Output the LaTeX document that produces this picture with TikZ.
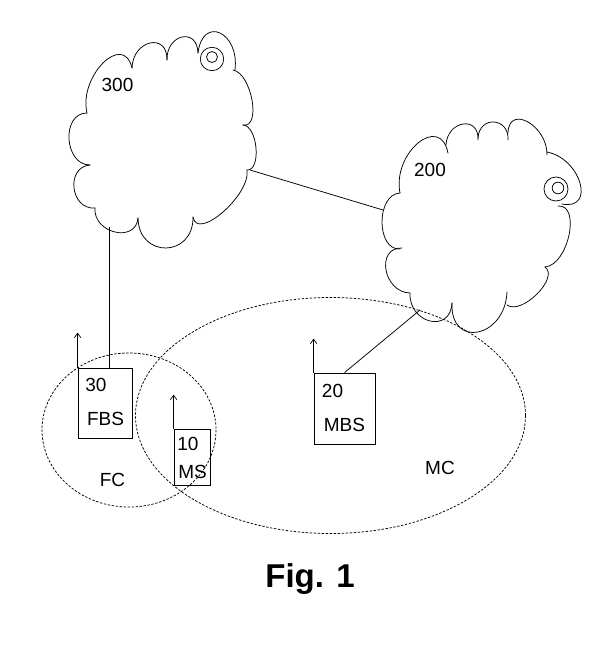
\documentclass[tikz,border=0pt]{standalone}
\usepackage{fontspec}
\setmainfont{Liberation Sans}
\usetikzlibrary{arrows.meta}
\tikzset{
  cloudline/.style={line width=0.75pt, line cap=round},
  conn/.style={line width=0.75pt},
  cell/.style={line width=0.75pt, dash pattern=on 2.4pt off 1.6pt},
  stationbox/.style={draw, line width=0.75pt, rectangle, inner sep=0pt},
  ant/.style={line width=0.7pt, -{Straight Barb[length=4.5pt,width=6.5pt]}},
  lbl/.style={inner sep=0pt, anchor=base, font=\fontsize{19}{22}\selectfont},
}
\newcommand\drawbumps[1]{%
  \foreach \px/\py/\mx/\my/\qx/\qy in {#1}{%
    \pgfmathsetmacro\ax{\px/3+4*\mx/3-2*\qx/3}%
    \pgfmathsetmacro\ay{\py/3+4*\my/3-2*\qy/3}%
    \pgfmathsetmacro\bx{\qx/3+4*\mx/3-2*\px/3}%
    \pgfmathsetmacro\by{\qy/3+4*\my/3-2*\py/3}%
    \draw[cloudline] (\px,\py) .. controls (\ax,\ay) and (\bx,\by) .. (\qx,\qy);
  }}
\begin{document}
\begin{tikzpicture}[x=1pt,y=-1pt]
\useasboundingbox (0,0) rectangle (612,651);

% cloud 300
\drawbumps{87/113/103/63/132/68, 132/68/150/43/167/60, 167/60/182/37/198/53,
  198/53/220/33/235/70, 233/70/252/100/243/125, 243/125/256/148/247/170,
  247/170/223/212/193/217, 193/217/166/248/138/218, 138/218/115/232/95/208,
  95/208/74/188/90/165, 90/165/69/139/87/113}
\draw[cloudline] (212,59) circle [radius=11.7];
\draw[cloudline] (212,57) circle [radius=5.5];

% cloud 200
\drawbumps{400/193/418/143/448/153, 446/145/463/124/478/140, 478/138/494/122/508/140,
  508/133/528/122/547/155, 547/152/580/183/562/204, 558/206/569/235/545/267,
  545/267/537/294/507/305, 507/292/478/332/452/303, 452/303/430/321/410/293,
  410/293/386/270/402/248, 400/249/382/222/400/193}
\draw[cloudline] (556,189) circle [radius=12];
\draw[cloudline] (558,188) circle [radius=5.8];

% cloud labels
\node[lbl] (l300) at (117.5,91) {300};
\node[lbl] (l200) at (430,176) {200};

% connection points on the clouds
\coordinate (c300s) at (109,227);
\coordinate (c300e) at (250,170);
\coordinate (c200w) at (383,210);
\coordinate (c200s) at (420,310);

% cells
\draw[cell] (129,430) ellipse [x radius=87, y radius=77];
\draw[cell] (330.5,415.5) ellipse [x radius=195, y radius=118];

% stations
\node[stationbox, minimum width=54pt, minimum height=70pt] (fbs) at (105,403) {};
\node[stationbox, minimum width=36pt, minimum height=56pt] (ms) at (192,457) {};
\node[stationbox, minimum width=61pt, minimum height=71pt] (mbs) at (344.5,408.5) {};

% antennas
\draw[ant] (fbs.north west) -- ++(0,-35);
\draw[ant] (ms.north west) -- ++(0,-34);
\draw[ant] (mbs.north west) -- ++(0,-34);

% station labels
\node[lbl] (n30) at (96,391) {30};
\node[lbl] (tfbs) at (105.5,425) {FBS};
\node[lbl] (n10) at (188,450) {10};
\node[lbl] (tms) at (192.5,478) {MS};
\node[lbl] (n20) at (332.5,397) {20};
\node[lbl] (tmbs) at (344.5,431) {MBS};
\node[lbl] (tfc) at (112.5,486) {FC};
\node[lbl] (tmc) at (440,474) {MC};

% connectors
\draw[conn] (c300e) -- (c200w);
\draw[conn] (fbs.north -| c300s) -- (c300s);
\draw[conn] (mbs.north) -- (c200s);

% caption
\node[inner sep=0pt, anchor=base, font=\bfseries\fontsize{33}{36}\selectfont] (cap) at (310,587) {Fig. 1};
\end{tikzpicture}
\end{document}
